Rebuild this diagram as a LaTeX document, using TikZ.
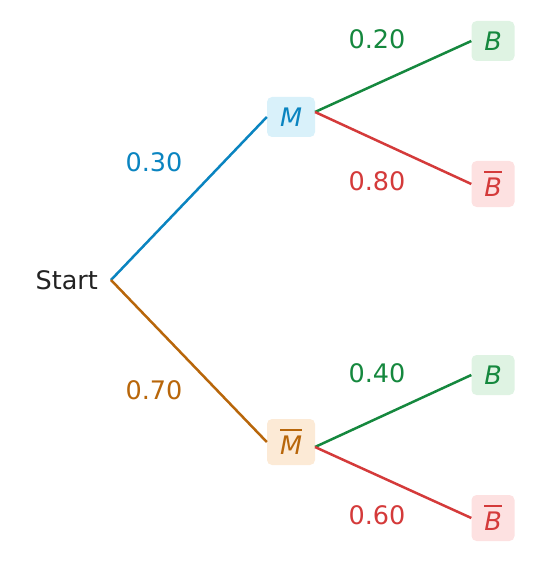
\documentclass[tikz,border=0pt]{standalone}
\usepackage{fontspec}
\setmainfont{DejaVu Sans}
\definecolor{cblue}{HTML}{0A84C0}
\definecolor{corange}{HTML}{B8660A}
\definecolor{cgreen}{HTML}{15883E}
\definecolor{cred}{HTML}{D43A3A}
\definecolor{fblue}{HTML}{D9F1FA}
\definecolor{forange}{HTML}{FCEAD6}
\definecolor{fgreen}{HTML}{DFF3E3}
\definecolor{fred}{HTML}{FDE1E1}
\definecolor{ctext}{HTML}{222222}
\newcommand{\obar}[1]{\leavevmode\vbox{\hrule height 2pt \kern 4.5pt \hbox{\itshape #1}}}
\begin{document}
\begin{tikzpicture}[x=1pt,y=-1pt,
  every node/.style={font=\fontsize{25.5}{30}\selectfont},
  box/.style={rounded corners=5pt, inner sep=0pt, font=\fontsize{25.5}{30}\selectfont\itshape},
  edge/.style={line width=2.5pt},
  prob/.style={anchor=center}]
\useasboundingbox (0,0) rectangle (537,564);
\node[ctext, anchor=east] (start) at (101.5,280) {Start};
\coordinate (root) at (111,280);
\node[box, fill=fblue, text=cblue, minimum width=48pt, minimum height=40pt] (m) at (291,117) {M};
\node[box, fill=forange, text=corange, minimum width=48pt, minimum height=46pt] (mb) at (291,442) {\obar{M}};
\node[box, fill=fgreen, text=cgreen, minimum width=43pt, minimum height=40pt] (b1) at (493,41) {B};
\node[box, fill=fred, text=cred, minimum width=43pt, minimum height=46pt] (bb1) at (493,184) {\obar{B}};
\node[box, fill=fgreen, text=cgreen, minimum width=43pt, minimum height=40pt] (b2) at (493,375) {B};
\node[box, fill=fred, text=cred, minimum width=43pt, minimum height=46pt] (bb2) at (493,518) {\obar{B}};
\coordinate (mo) at (315,112);
\coordinate (mbo) at (315,447);
\draw[edge, cblue] (root) -- (m.west);
\draw[edge, corange] (root) -- (mb.west);
\draw[edge, cgreen] (mo) -- (b1.west);
\draw[edge, cred] (mo) -- (bb1.west);
\draw[edge, cgreen] (mbo) -- (b2.west);
\draw[edge, cred] (mbo) -- (bb2.west);
\node[prob, text=cblue] (p1) at (154,162) {0.30};
\node[prob, text=corange] (p2) at (154,390) {0.70};
\node[prob, text=cgreen] (p3) at (377,39) {0.20};
\node[prob, text=cred] (p4) at (377,181) {0.80};
\node[prob, text=cgreen] (p5) at (377,373) {0.40};
\node[prob, text=cred] (p6) at (377,515) {0.60};
\end{tikzpicture}
\end{document}
